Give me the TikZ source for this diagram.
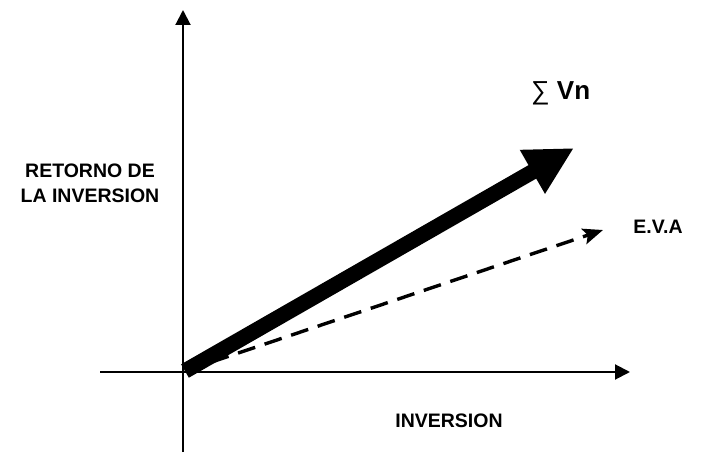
\documentclass[tikz,border=0pt]{standalone}
\usepackage{fontspec}
\setmainfont{Liberation Sans}
\usetikzlibrary{arrows.meta}

\begin{document}
\begin{tikzpicture}[x=1pt, y=-1pt,
            lab/.style={font=\fontsize{19.5}{25}\selectfont\bfseries, inner sep=0},
            axis/.style={line width=2pt, -{Triangle[length=15pt, width=15pt]}}]
            \useasboundingbox (0,0) rectangle (702,454);
            % axes
            \coordinate (O) at (185,371);
            \coordinate (ybot) at (183,452);
            \coordinate (ytop) at (183,10);
            \coordinate (xleft) at (100,372);
            \coordinate (xright) at (630,372);
            \draw[axis] (ybot) -- (ytop);
            \draw[axis] (xleft) -- (xright);

            % arrows
            \coordinate (vn) at (574,148);
            \coordinate (eva) at (603,230);
            \draw[line width=3.4pt, dash pattern=on 18pt off 10pt,
                  -{Stealth[length=20pt, width=16pt, inset=4pt]}] (O) -- (eva);
            \draw[line width=15.5pt, -{Triangle[length=48pt, width=47pt]}] (O) -- (vn);

            % labels
            \node[lab, align=center] (ret) at (90,183) {RETORNO DE\\LA INVERSION};
            \node[lab] (inv) at (449,421) {INVERSION};
            \node[lab] (evalab) at (658,227) {E.V.A};
            \node[lab, font=\fontsize{26}{30}\selectfont\bfseries, anchor=base west] (sum) at (531,100) {{\mdseries ∑} Vn};
        \end{tikzpicture}
\end{document}
